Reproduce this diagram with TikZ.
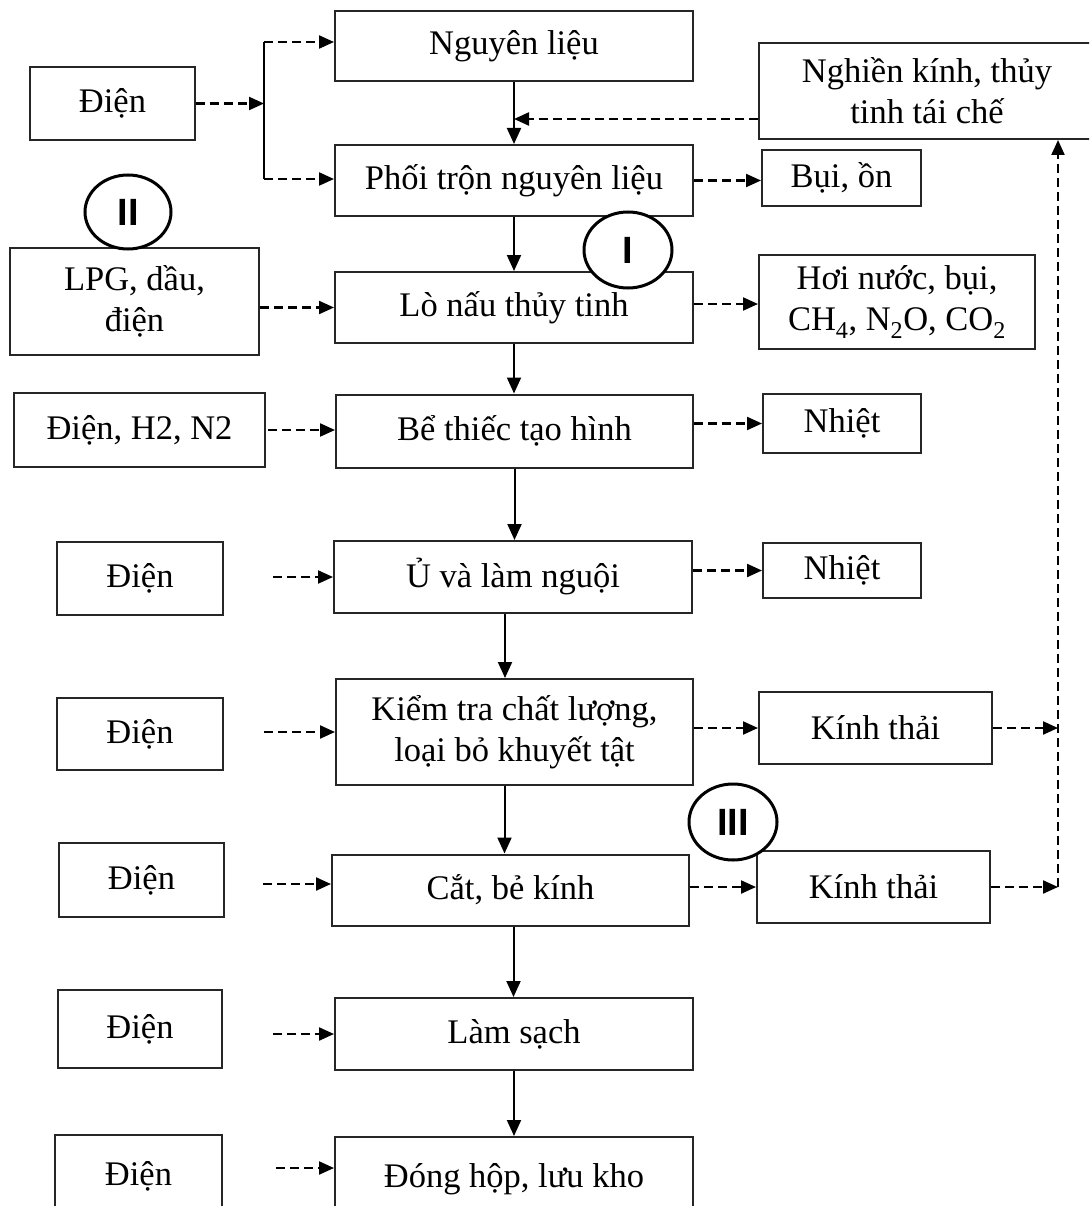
\documentclass[tikz,border=0pt]{standalone}
\usepackage{fontspec}
\setmainfont{Liberation Serif}
\newfontfamily\labelfont{Liberation Sans}
\usetikzlibrary{arrows.meta,shapes.geometric,calc}

\begin{document}
\begin{tikzpicture}[x=1pt,y=-1pt,
  box/.style={draw=black!85, line width=2pt, fill=white, inner sep=0pt,
    align=center, font=\fontsize{34.5}{41}\selectfont},
  tag/.style={draw=black, line width=3pt, fill=white, ellipse, inner sep=0pt,
    font=\labelfont\bfseries\fontsize{38}{38}\selectfont},
  flow/.style={line width=2pt, -{Triangle[length=16pt,width=14pt]}},
  dasharrow/.style={line width=2.2pt, dash pattern=on 9pt off 5pt,
    -{Triangle[length=15pt,width=13pt]}}
]
\clip (0,0) rectangle (1089,1206);
\fill[white] (0,0) rectangle (1089,1206);

% main process column
\node[box, minimum width=358pt, minimum height=70pt] (nl)  at (514,46)    {Nguyên liệu};
\node[box, minimum width=358pt, minimum height=71pt] (pt)  at (514,180.5) {Phối trộn nguyên liệu};
\node[box, minimum width=358pt, minimum height=71pt] (lo)  at (514,307.5) {Lò nấu thủy tinh};
\node[box, minimum width=357pt, minimum height=73pt] (be)  at (514.5,431) {Bể thiếc tạo hình};
\node[box, minimum width=358pt, minimum height=72pt] (u)   at (513,577)   {Ủ và làm nguội};
\node[box, minimum width=357pt, minimum height=106pt] (kt) at (514.5,732) {Kiểm tra chất lượng,\\loại bỏ khuyết tật};
\node[box, minimum width=357pt, minimum height=71pt] (cat) at (510.5,890) {Cắt, bẻ kính};
\node[box, minimum width=358pt, minimum height=72pt] (ls)  at (514,1034)  {Làm sạch};
\node[box, minimum width=358pt, minimum height=86pt] (dh)  at (514,1180)  {\raisebox{9pt}{Đóng hộp, lưu kho}};

% inputs on the left
\node[box, minimum width=165pt, minimum height=73pt]  (d0)  at (112.5,103.5) {Điện};
\node[box, minimum width=249pt, minimum height=107pt] (lpg) at (134.5,301.5) {LPG, dầu,\\điện};
\node[box, minimum width=251pt, minimum height=74pt]  (dhn) at (139.5,430)   {Điện, H2, N2};
\node[box, minimum width=166pt, minimum height=73pt]  (d2)  at (140,578.5)   {Điện};
\node[box, minimum width=166pt, minimum height=72pt]  (d3)  at (140,734)     {Điện};
\node[box, minimum width=165pt, minimum height=74pt]  (d4)  at (141.5,880)   {Điện};
\node[box, minimum width=164pt, minimum height=78pt]  (d5)  at (140,1029)    {Điện};
\node[box, minimum width=167pt, minimum height=86pt]  (d6)  at (138.5,1178)  {\raisebox{9pt}{Điện}};

% outputs on the right
\node[box, minimum width=336pt, minimum height=96pt] (nk)   at (927,91)     {Nghiền kính, thủy\\tinh tái chế};
\node[box, minimum width=159pt, minimum height=56pt] (bui)  at (841.5,178)  {Bụi, ồn};
\node[box, minimum width=276pt, minimum height=94pt] (hn)   at (897,302)    {Hơi nước, bụi,\\CH\textsubscript{4}, N\textsubscript{2}O, CO\textsubscript{2}};
\node[box, minimum width=158pt, minimum height=59pt] (nh1)  at (842,423.5)  {Nhiệt};
\node[box, minimum width=158pt, minimum height=55pt] (nh2)  at (842,570.5)  {Nhiệt};
\node[box, minimum width=233pt, minimum height=72pt] (kth1) at (875.5,728)  {Kính thải};
\node[box, minimum width=233pt, minimum height=72pt] (kth2) at (873.5,887)  {Kính thải};

% main flow
\draw[flow] (nl.south) -- (pt.north);
\draw[flow] (pt.south) -- (lo.north);
\draw[flow] (lo.south) -- (lo.south |- be.north);
\draw[flow] (be.south) -- (be.south |- u.north);
\draw[flow] ([xshift=-8pt]u.south) -- ([xshift=-8pt]u.south |- kt.north);
\draw[flow] ([xshift=-10pt]kt.south) -- ([xshift=-10pt]kt.south |- cat.north);
\draw[flow] ([xshift=3pt]cat.south) -- ([xshift=3pt]cat.south |- ls.north);
\draw[flow] (ls.south) -- (dh.north);

% electricity split to the first two steps
\coordinate (bt) at (264,42);
\coordinate (bb) at (264,179);
\draw[line width=2pt] (bt) -- (bb);
\draw[dasharrow] (bt) -- (bt -| nl.west);
\draw[dasharrow] (bb) -- (bb -| pt.west);
\draw[dasharrow] (d0.east) -- (d0.east -| bt);

% inputs
\draw[dasharrow] (lpg.east |- lo.west) -- (lo.west);
\draw[dasharrow, shorten <=2pt] (dhn.east) -- (dhn.east -| be.west);
\draw[dasharrow, shorten <=49pt] (d2.east |- u.west) -- (u.west);
\draw[dasharrow, shorten <=40pt] (d3.east |- kt.west) -- (kt.west);
\draw[dasharrow, shorten <=38pt] (d4.east |- 0,884) -- (cat.west |- 0,884);
\draw[dasharrow, shorten <=50pt] (d5.east |- ls.west) -- (ls.west);
\draw[dasharrow, shorten <=53pt] (d6.east |- 0,1168) -- (dh.west |- 0,1168);

% emissions and wastes
\draw[dasharrow] (pt.east) -- (pt.east -| bui.west);
\draw[dasharrow] (lo.east |- 0,304) -- (hn.west |- 0,304);
\draw[dasharrow] (be.east |- nh1.west) -- (nh1.west);
\draw[dasharrow] (u.east |- nh2.west) -- (nh2.west);
\draw[dasharrow] (kt.east |- kth1.west) -- (kth1.west);
\draw[dasharrow] (cat.east |- kth2.west) -- (kth2.west);

% cullet return loop
\coordinate (rb) at (1058,887);
\draw[dasharrow] (kth1.east) -- (kth1.east -| rb);
\draw[dasharrow] (kth2.east) -- (rb);
\draw[dasharrow] (rb) -- (rb |- nk.south);
\draw[dasharrow] ([yshift=-28pt]nk.west) -- ([yshift=-28pt]nk.west -| nl.south);

% stage markers
\node[tag, minimum width=88pt, minimum height=76pt] (t1) at (628,250) {I};
\node[tag, minimum width=86pt, minimum height=74pt] (t2) at (128,212) {II};
\node[tag, minimum width=88pt, minimum height=76pt] (t3) at (733,822) {III};
\end{tikzpicture}
\end{document}
